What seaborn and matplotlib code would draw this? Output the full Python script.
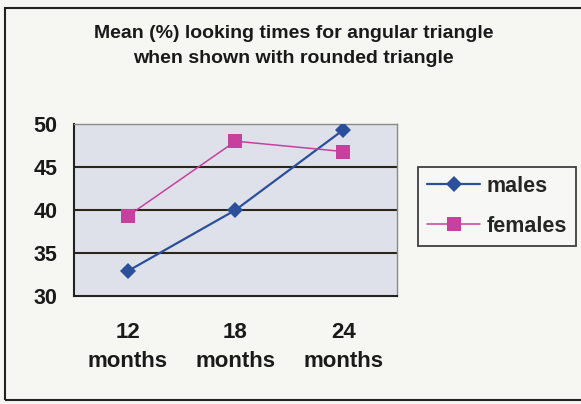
import matplotlib
matplotlib.use("Agg")
import matplotlib.pyplot as plt
from matplotlib.patches import Rectangle
from matplotlib.lines import Line2D
import seaborn as sns
import pandas as pd

ages = ["12\nmonths", "18\nmonths", "24\nmonths"]
males = [32.9, 40.0, 49.3]
females = [39.3, 48.0, 46.8]
series_names = ["males", "females"]
yticks = [30, 35, 40, 45, 50]

df = pd.DataFrame({
    "age": list(range(3)) * 2,
    "value": males + females,
    "group": ["males"] * 3 + ["females"] * 3,
})

sns.set_style("white")
plt.rcParams["font.family"] = ["Liberation Sans", "DejaVu Sans"]
plt.rcParams["font.weight"] = "bold"

W, H = 581, 404
fig = plt.figure(figsize=(W / 100, H / 100), dpi=100)
fig.patch.set_facecolor("#f6f6f3")

ax = fig.add_axes([74 / W, 1 - 296 / H, (397 - 74) / W, (296 - 124) / H])
ax.set_facecolor("#dfe1ea")

colors = {"males": "#2c4f9c", "females": "#c8409e"}
markers = {"males": "D", "females": "s"}
lws = {"males": 1.6, "females": 1.1}
msizes = {"males": 8.5, "females": 10.5}

for y in yticks[1:-1]:
    ax.axhline(y, color="#2b2618", lw=1.5, zorder=1)

sns.lineplot(data=df, x="age", y="value", hue="group", style="group",
             palette=colors, markers=markers, dashes=False, ax=ax,
             legend=False, zorder=3)
for line in ax.get_lines():
    c = matplotlib.colors.to_hex(line.get_color())
    for n in series_names:
        if c == colors[n]:
            line.set_linewidth(lws[n])
            line.set_markersize(msizes[n])
            line.set_markeredgewidth(0)

ax.set_xlim(-0.5, 2.5)
ax.set_ylim(30, 50)
ax.set_yticks(yticks)
ax.set_yticklabels([str(v) for v in yticks], fontsize=15.5, fontweight="bold", color="#1a1a1a")
ax.set_xticks(range(3))
ax.set_xticklabels(ages, fontsize=16, fontweight="bold", color="#1a1a1a", linespacing=1.5)
ax.set_xticks([-0.5, 0.5, 1.5, 2.5], minor=True)
ax.tick_params(axis="x", which="major", length=0, pad=19)
ax.tick_params(axis="x", which="minor", length=6, width=1.3, color="#222", direction="out")
ax.tick_params(axis="y", length=6, width=1.3, color="#222", direction="out", pad=6)
ax.set_xlabel("")
ax.set_ylabel("")

ax.spines["top"].set_color("#8a8a8a")
ax.spines["top"].set_linewidth(1.0)
ax.spines["right"].set_color("#8a8a8a")
ax.spines["right"].set_linewidth(1.0)
for side in ["left", "bottom"]:
    ax.spines[side].set_color("#222222")
    ax.spines[side].set_linewidth(1.5)

fig.text(294 / W, 1 - 38 / H, "Mean (%) looking times for angular triangle",
         ha="center", va="baseline", fontsize=14, fontweight="bold", color="#1a1a1a")
fig.text(293 / W, 1 - 63 / H, "when shown with rounded triangle",
         ha="center", va="baseline", fontsize=14, fontweight="bold", color="#1a1a1a")

handles = [Line2D([0], [0], color=colors[n], marker=markers[n], lw=lws[n],
                  markersize=msizes[n], markeredgewidth=0) for n in series_names]
leg = fig.legend(handles, series_names, loc="upper left",
                 bbox_to_anchor=(418 / W, 1 - 167 / H), frameon=True, fancybox=False,
                 prop={"size": 15.5, "weight": "bold"}, handlelength=2.5,
                 borderpad=0.4, labelspacing=0.9, handletextpad=0.3,
                 borderaxespad=0)
leg.get_frame().set_edgecolor("#111111")
leg.get_frame().set_linewidth(1.3)
leg.get_frame().set_facecolor("#f8f8f6")

fig.patches.append(Rectangle((5 / W, 1 - 400 / H), (590 - 5) / W, (400 - 8) / H,
                             transform=fig.transFigure, fill=False,
                             edgecolor="#222222", lw=1.5, zorder=0))

fig.savefig("out.png", dpi=100, facecolor=fig.get_facecolor())
